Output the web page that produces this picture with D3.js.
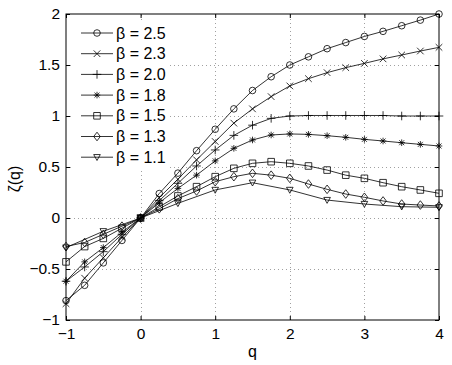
<!DOCTYPE html>
<html>
<head>
<meta charset="utf-8">
<script src="https://cdn.jsdelivr.net/npm/d3@7/dist/d3.min.js"></script>
<style>
    body { margin: 0; background: #fff; }
    svg { display: block; font-family: "Liberation Sans", Arial, sans-serif; }
</style>
</head>
<body>
<svg id="chart" width="452" height="365"></svg>
<script>
// q grid used by most curves (step 0.25), beta = 1.1 uses step 0.5
const qValues = [-1, -0.75, -0.5, -0.25, 0, 0.25, 0.5, 0.75, 1, 1.25, 1.5, 1.75, 2, 2.25, 2.5, 2.75, 3, 3.25, 3.5, 3.75, 4];
const qCoarse = [-1, -0.5, 0, 0.5, 1, 1.5, 2, 2.5, 3, 3.5, 4];

const zeta25 = [-0.81, -0.66, -0.44, -0.22, 0, 0.24, 0.44, 0.66, 0.87, 1.07, 1.25, 1.385, 1.50, 1.58, 1.66, 1.72, 1.78, 1.83, 1.885, 1.94, 2.0];
const zeta23 = [-0.84, -0.59, -0.39, -0.19, 0, 0.2, 0.38, 0.57, 0.75, 0.93, 1.07, 1.19, 1.295, 1.366, 1.425, 1.474, 1.516, 1.56, 1.598, 1.637, 1.673];
const zeta20 = [-0.62, -0.48, -0.33, -0.16, 0, 0.17, 0.34, 0.51, 0.667, 0.81, 0.91, 0.977, 1.0, 1.005, 1.005, 1.005, 1.005, 1.005, 1.0, 1.0, 1.0];
const zeta18 = [-0.62, -0.43, -0.29, -0.14, 0, 0.15, 0.29, 0.42, 0.56, 0.683, 0.765, 0.814, 0.824, 0.82, 0.807, 0.791, 0.771, 0.755, 0.738, 0.722, 0.706];
const zeta15 = [-0.43, -0.28, -0.2, -0.1, 0, 0.11, 0.216, 0.307, 0.405, 0.487, 0.536, 0.552, 0.536, 0.51, 0.47, 0.42, 0.389, 0.346, 0.307, 0.275, 0.242];
const zeta13 = [-0.28, -0.24, -0.16, -0.08, 0, 0.09, 0.19, 0.265, 0.356, 0.405, 0.438, 0.42, 0.389, 0.333, 0.281, 0.235, 0.203, 0.167, 0.137, 0.127, 0.118];
const zeta11 = [-0.29, -0.13, 0, 0.144, 0.275, 0.346, 0.275, 0.176, 0.137, 0.111, 0.105];

const betaLabels = ["β = 2.5", "β = 2.3", "β = 2.0", "β = 1.8", "β = 1.5", "β = 1.3", "β = 1.1"];
const markerTypes = ["circle", "x", "plus", "star", "square", "diamond", "triangleDown"];

const xTicks = [-1, 0, 1, 2, 3, 4];
const yTicks = [-1, -0.5, 0, 0.5, 1, 1.5, 2];

const series = [
    { q: qValues, z: zeta25 },
    { q: qValues, z: zeta23 },
    { q: qValues, z: zeta20 },
    { q: qValues, z: zeta18 },
    { q: qValues, z: zeta15 },
    { q: qValues, z: zeta13 },
    { q: qCoarse, z: zeta11 },
].map((s, i) => ({ label: betaLabels[i], marker: markerTypes[i], points: s.q.map((q, j) => [q, s.z[j]]) }));

const margin = { left: 66, right: 13, top: 14, bottom: 45 };
const width = 452, height = 365;

const svg = d3.select("#chart");

const x = d3.scaleLinear().domain([-1, 4]).range([margin.left, width - margin.right]);
const y = d3.scaleLinear().domain([-1, 2]).range([height - margin.bottom, margin.top]);

function tickFormat(v) {
    return String(v).replace("-", "\u2212");
}

// markers drawn in MATLAB style, s = half size
function markerPath(type, s) {
    const p = d3.path();
    if (type === "circle") {
        p.moveTo(s, 0);
        p.arc(0, 0, s, 0, 2 * Math.PI);
    } else if (type === "x") {
        p.moveTo(-s, -s); p.lineTo(s, s);
        p.moveTo(-s, s); p.lineTo(s, -s);
    } else if (type === "plus") {
        p.moveTo(-s - 1, 0); p.lineTo(s + 1, 0);
        p.moveTo(0, -s - 1); p.lineTo(0, s + 1);
    } else if (type === "star") {
        const d = s * 0.75;
        p.moveTo(-s, 0); p.lineTo(s, 0);
        p.moveTo(0, -s); p.lineTo(0, s);
        p.moveTo(-d, -d); p.lineTo(d, d);
        p.moveTo(-d, d); p.lineTo(d, -d);
    } else if (type === "square") {
        p.rect(-s, -s, 2 * s, 2 * s);
    } else if (type === "diamond") {
        p.moveTo(0, -s - 1); p.lineTo(s, 0); p.lineTo(0, s + 1); p.lineTo(-s, 0); p.closePath();
    } else if (type === "triangleDown") {
        p.moveTo(-s, -s * 0.8); p.lineTo(s, -s * 0.8); p.lineTo(0, s); p.closePath();
    }
    return p.toString();
}

// grid
const grid = svg.append("g").attr("stroke", "#a0a0a0").attr("stroke-width", 1).attr("stroke-dasharray", "1,3");
grid.selectAll("line.gx").data(xTicks.slice(1, -1)).join("line")
    .attr("x1", d => Math.round(x(d)) + 0.5).attr("x2", d => Math.round(x(d)) + 0.5)
    .attr("y1", y(-1)).attr("y2", y(2));
grid.selectAll("line.gy").data(yTicks.slice(1, -1)).join("line")
    .attr("y1", d => Math.round(y(d)) + 0.5).attr("y2", d => Math.round(y(d)) + 0.5)
    .attr("x1", x(-1)).attr("x2", x(4));

// axes with inward ticks on all four sides
const axisFont = g => g.call(s => s.select(".domain").remove())
    .selectAll("text").attr("font-size", 15.5).attr("fill", "#000").attr("font-family", "Liberation Sans, Arial, sans-serif");

svg.append("g").attr("transform", `translate(0,${y(-1)})`)
    .call(d3.axisBottom(x).tickValues(xTicks).tickFormat(tickFormat).tickSizeInner(-4).tickSizeOuter(0).tickPadding(8))
    .call(axisFont);
svg.append("g").attr("transform", `translate(0,${y(2)})`)
    .call(d3.axisTop(x).tickValues(xTicks).tickFormat("").tickSizeInner(-4).tickSizeOuter(0))
    .call(s => s.select(".domain").remove());
svg.append("g").attr("transform", `translate(${x(-1)},0)`)
    .call(d3.axisLeft(y).tickValues(yTicks).tickFormat(tickFormat).tickSizeInner(-4).tickSizeOuter(0).tickPadding(6))
    .call(axisFont);
svg.append("g").attr("transform", `translate(${x(4)},0)`)
    .call(d3.axisRight(y).tickValues(yTicks).tickFormat("").tickSizeInner(-4).tickSizeOuter(0))
    .call(s => s.select(".domain").remove());

svg.append("rect")
    .attr("x", x(-1)).attr("y", y(2))
    .attr("width", x(4) - x(-1)).attr("height", y(-1) - y(2))
    .attr("fill", "none").attr("stroke", "#000").attr("stroke-width", 1);

// curves
const line = d3.line().x(d => x(d[0])).y(d => y(d[1]));
const curves = svg.append("g");
series.forEach(s => {
    curves.append("path")
        .attr("d", line(s.points))
        .attr("fill", "none").attr("stroke", "#000").attr("stroke-width", 0.8);
    curves.selectAll(null).data(s.points).join("path")
        .attr("transform", d => `translate(${x(d[0])},${y(d[1])})`)
        .attr("d", markerPath(s.marker, 3.3))
        .attr("fill", "none").attr("stroke", "#000").attr("stroke-width", 0.8);
});

// legend (white box without border)
const legend = svg.append("g");
legend.append("rect").attr("x", 74).attr("y", 20).attr("width", 96).attr("height", 148).attr("fill", "#fff");
series.forEach((s, i) => {
    const ly = 33 + i * 20.7;
    legend.append("line").attr("x1", 81).attr("x2", 113).attr("y1", ly).attr("y2", ly)
        .attr("stroke", "#000").attr("stroke-width", 0.8);
    legend.append("path").attr("transform", `translate(97,${ly})`)
        .attr("d", markerPath(s.marker, 3.3))
        .attr("fill", "none").attr("stroke", "#000").attr("stroke-width", 0.8);
    legend.append("text").attr("x", 116).attr("y", ly + 5.5)
        .attr("font-size", 16).text(s.label);
});

// axis labels
svg.append("text").attr("x", (x(-1) + x(4)) / 2).attr("y", 357)
    .attr("text-anchor", "middle").attr("font-size", 16).text("q");
svg.append("text").attr("transform", `translate(20,${(y(-1) + y(2)) / 2 + 12}) rotate(-90)`)
    .attr("text-anchor", "middle").attr("font-size", 16).text("ζ(q)");
</script>
</body>
</html>
